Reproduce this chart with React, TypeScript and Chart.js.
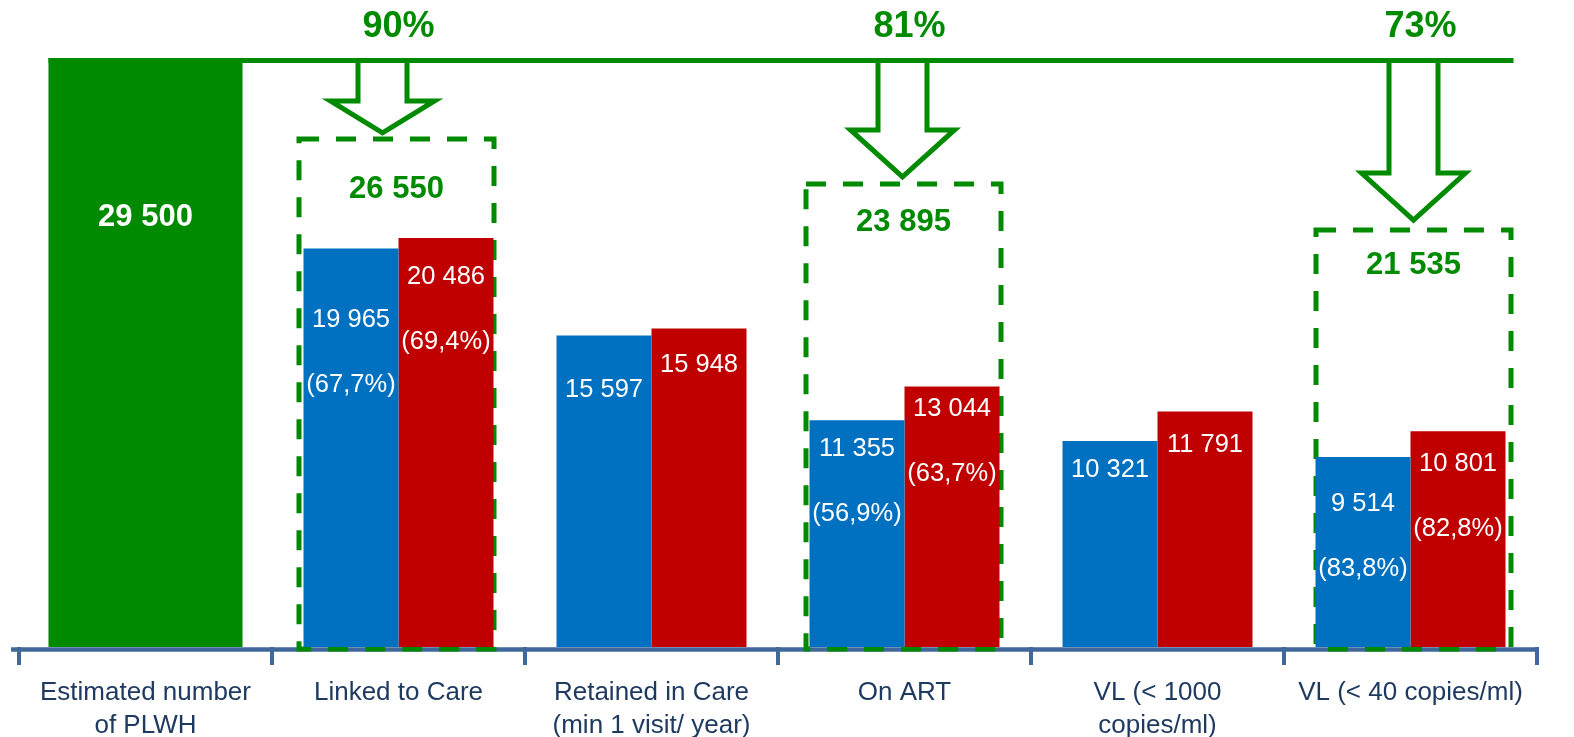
import React, { useEffect, useRef } from "react";
import { Chart, registerables } from "chart.js";

Chart.register(...registerables);

// ---------- data ----------
const categories: (string | string[])[] = [
  ["Estimated number", "of PLWH"],
  "Linked to Care",
  ["Retained in Care", "(min 1 visit/ year)"],
  "On ART",
  ["VL (< 1000", "copies/ml)"],
  "VL (< 40 copies/ml)",
];
const estimatedValues = [29500, null, null, null, null, null];
const blueValues = [null, 19965, 15597, 11355, 10321, 9514];
const redValues = [null, 20486, 15948, 13044, 11791, 10801];
const bluePctLabels = [null, "(67,7%)", null, "(56,9%)", null, "(83,8%)"];
const redPctLabels = [null, "(69,4%)", null, "(63,7%)", null, "(82,8%)"];
const targetCategoryIdx = [1, 3, 5];
const targetPctLabels = ["90%", "81%", "73%"];
const targetValues = [26550, 23895, 21535];

// ---------- layout / style ----------
const GREEN = "#008A00";
const BLUE = "#0070C0";
const RED = "#C00000";
const AXIS = "#41689B";
const LABEL = "#1F3A60";
const FONT = "'Liberation Sans', Arial, sans-serif";

const blueLabelDy = [0, 72, 54, 29, 29, 47];
const redLabelDy = [0, 39, 36, 22, 33, 33];
const pctLineGap = 65;
const boxDx = [-2, -1, 3];
const boxTopDy = [22, 14, 13];
const boxHalfW = 97.5;
const boxTextDy = [51, 39, 35];
const arrowDx = [-16, -2, 3];
const arrowTipGap = [6, 7, 10];
const arrowHeadH = [32, 47, 47];
const arrowShaftHalf = 24.5;
const arrowHeadHalf = 52;
const pctDx = [0, 5, 10];
const pctY = 27;

const fmt = (v: number) => String(v).replace(/\B(?=(\d{3})+(?!\d))/g, " ");

const overlay = {
  id: "overlay",
  beforeDatasetsDraw(chart: any) {
    const { ctx, chartArea } = chart;
    const x = chart.scales.x;
    const y = chart.scales.y;
    ctx.save();
    // axis line
    ctx.strokeStyle = AXIS;
    ctx.lineWidth = 4.5;
    ctx.beginPath();
    ctx.moveTo(11, chartArea.bottom + 2.5);
    ctx.lineTo(chartArea.right + 2, chartArea.bottom + 2.5);
    ctx.stroke();
    // dashed boxes
    ctx.strokeStyle = GREEN;
    ctx.lineWidth = 5;
    ctx.setLineDash([20, 17]);
    targetCategoryIdx.forEach((ci, k) => {
      const cx = x.getPixelForValue(ci) + boxDx[k];
      const top = y.getPixelForValue(targetValues[k]) + boxTopDy[k];
      const bottom = chartArea.bottom + 2;
      ctx.strokeRect(cx - boxHalfW, top, 2 * boxHalfW, bottom - top);
    });
    ctx.restore();
  },
  afterDatasetsDraw(chart: any) {
    const { ctx, chartArea } = chart;
    const x = chart.scales.x;
    const y = chart.scales.y;
    const greenMeta = chart.getDatasetMeta(0);
    const blueMeta = chart.getDatasetMeta(1);
    const redMeta = chart.getDatasetMeta(2);
    ctx.save();
    const lineY = y.getPixelForValue(estimatedValues[0] as number) + 2.5;

    // arrows
    ctx.strokeStyle = GREEN;
    ctx.lineWidth = 5;
    ctx.lineJoin = "miter";
    ctx.miterLimit = 10;
    targetCategoryIdx.forEach((ci, k) => {
      const cx = x.getPixelForValue(ci) + arrowDx[k];
      const boxTop = y.getPixelForValue(targetValues[k]) + boxTopDy[k];
      const tip = boxTop - arrowTipGap[k];
      const headTop = tip - arrowHeadH[k];
      ctx.beginPath();
      ctx.moveTo(cx - arrowShaftHalf, lineY);
      ctx.lineTo(cx - arrowShaftHalf, headTop);
      ctx.lineTo(cx - arrowHeadHalf, headTop);
      ctx.lineTo(cx, tip);
      ctx.lineTo(cx + arrowHeadHalf, headTop);
      ctx.lineTo(cx + arrowShaftHalf, headTop);
      ctx.lineTo(cx + arrowShaftHalf, lineY);
      ctx.closePath();
      ctx.stroke();
    });

    // green horizontal line
    const gb = greenMeta.data[0];
    const lastCi = targetCategoryIdx[targetCategoryIdx.length - 1];
    const lineEnd = x.getPixelForValue(lastCi) + boxDx[boxDx.length - 1] + boxHalfW + 2.5;
    ctx.beginPath();
    ctx.moveTo(gb.x - gb.width / 2, lineY);
    ctx.lineTo(lineEnd, lineY);
    ctx.stroke();

    // percentages above line
    ctx.fillStyle = GREEN;
    ctx.textAlign = "center";
    ctx.textBaseline = "middle";
    ctx.font = `bold 36px ${FONT}`;
    targetCategoryIdx.forEach((ci, k) => {
      ctx.fillText(targetPctLabels[k], x.getPixelForValue(ci) + pctDx[k], pctY);
    });

    // box values
    ctx.font = `bold 31px ${FONT}`;
    targetCategoryIdx.forEach((ci, k) => {
      const cx = x.getPixelForValue(ci) + boxDx[k];
      const boxTop = y.getPixelForValue(targetValues[k]) + boxTopDy[k];
      ctx.fillText(fmt(targetValues[k]), cx, boxTop + boxTextDy[k]);
    });

    // green bar label
    ctx.fillStyle = "#FFFFFF";
    ctx.fillText(fmt(estimatedValues[0] as number), gb.x, chartArea.top + 159);

    // bar value labels
    ctx.font = `25.5px ${FONT}`;
    for (let i = 0; i < categories.length; i++) {
      const bv = blueValues[i];
      if (bv != null) {
        const el = blueMeta.data[i];
        ctx.fillText(fmt(bv), el.x, el.y + blueLabelDy[i]);
        const p = bluePctLabels[i];
        if (p) ctx.fillText(p, el.x, el.y + blueLabelDy[i] + pctLineGap);
      }
      const rv = redValues[i];
      if (rv != null) {
        const el = redMeta.data[i];
        ctx.fillText(fmt(rv), el.x, el.y + redLabelDy[i]);
        const p = redPctLabels[i];
        if (p) ctx.fillText(p, el.x, el.y + redLabelDy[i] + pctLineGap);
      }
    }
    ctx.restore();
  },
};

export default function App() {
  const ref = useRef<HTMLCanvasElement>(null);
  useEffect(() => {
    const chart = new Chart(ref.current as HTMLCanvasElement, {
      type: "bar",
      data: {
        labels: categories as any,
        datasets: [
          {
            label: "Estimated",
            data: estimatedValues as any,
            backgroundColor: GREEN,
            borderWidth: 0,
            grouped: false,
            barPercentage: 0.767,
            categoryPercentage: 1,
          } as any,
          {
            label: "Blue",
            data: blueValues as any,
            backgroundColor: BLUE,
            borderWidth: 0,
            barPercentage: 1,
            categoryPercentage: 0.751,
          },
          {
            label: "Red",
            data: redValues as any,
            backgroundColor: RED,
            borderWidth: 0,
            barPercentage: 1,
            categoryPercentage: 0.751,
          },
        ],
      },
      options: {
        animation: false,
        responsive: true,
        maintainAspectRatio: false,
        layout: { padding: { left: 19, right: 37, top: 58, bottom: -16.5 } },
        plugins: {
          legend: { display: false },
          tooltip: { enabled: false },
        },
        scales: {
          x: {
            border: { display: false },
            grid: {
              display: true,
              drawOnChartArea: false,
              drawTicks: true,
              tickLength: 18,
              lineWidth: 4,
              color: AXIS,
            },
            ticks: {
              color: LABEL,
              font: { family: FONT, size: 26, lineHeight: 1.24 },
              padding: 12,
              maxRotation: 0,
              minRotation: 0,
              autoSkip: false,
            },
          },
          y: {
            display: false,
            min: 0,
            max: 29500,
          },
        },
      },
      plugins: [overlay],
    });
    return () => chart.destroy();
  }, []);
  return (
    <div style={{ position: "absolute", left: 0, top: 0, width: 1574, height: 737 }}>
      <canvas ref={ref} />
    </div>
  );
}
